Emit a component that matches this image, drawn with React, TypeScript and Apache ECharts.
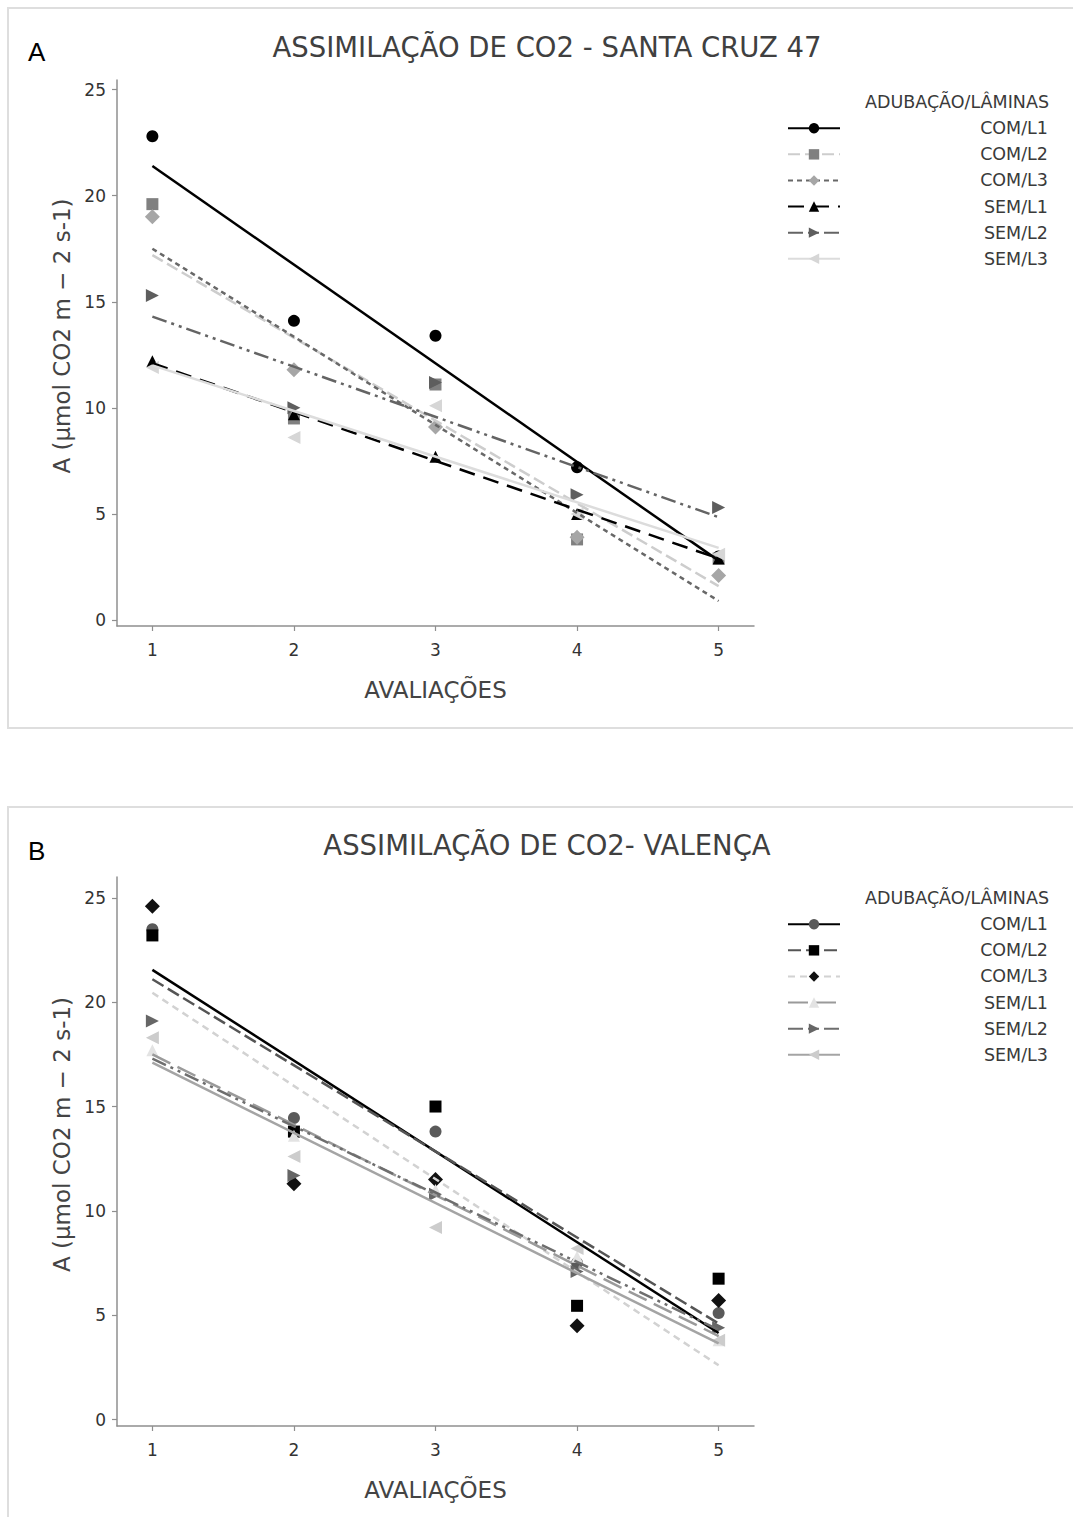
import React, { useEffect, useRef } from "react";
import * as echarts from "echarts";

// ---------- data ----------
const X_VALUES = [1, 2, 3, 4, 5];
const Y_TICKS = [0, 5, 10, 15, 20, 25];
const SERIES_NAMES = ["COM/L1", "COM/L2", "COM/L3", "SEM/L1", "SEM/L2", "SEM/L3"];
const LEGEND_TITLE = "ADUBAÇÃO/LÂMINAS";
const X_NAME = "AVALIAÇÕES";
const Y_NAME = "A (µmol CO2 m − 2 s-1)";

const TITLE_A = "ASSIMILAÇÃO DE CO2 - SANTA CRUZ 47";
const A_COM_L1 = [22.8, 14.1, 13.4, 7.2, 3.0];
const A_COM_L2 = [19.6, 9.5, 11.1, 3.8, 2.9];
const A_COM_L3 = [19.0, 11.8, 9.1, 3.9, 2.1];
const A_SEM_L1 = [12.2, 9.7, 7.7, 5.0, 2.9];
const A_SEM_L2 = [15.3, 10.0, 11.2, 5.9, 5.3];
const A_SEM_L3 = [11.9, 8.6, 10.1, 5.0, 3.1];
// fitted trend lines, value at evaluation 1 and at evaluation 5
const A_TREND_START = [21.4, 17.2, 17.5, 12.1, 14.3, 12.0];
const A_TREND_END = [2.8, 1.6, 0.9, 2.9, 4.85, 3.4];

const TITLE_B = "ASSIMILAÇÃO DE CO2- VALENÇA";
const B_COM_L1 = [23.5, 14.45, 13.8, 7.5, 5.1];
const B_COM_L2 = [23.2, 13.8, 15.0, 5.45, 6.75];
const B_COM_L3 = [24.6, 11.3, 11.5, 4.5, 5.7];
const B_SEM_L1 = [17.7, 13.6, 11.0, 7.8, 3.8];
const B_SEM_L2 = [19.1, 11.7, 10.8, 7.1, 4.4];
const B_SEM_L3 = [18.3, 12.6, 9.2, 8.2, 3.8];
const B_TREND_START = [21.55, 21.1, 20.45, 17.5, 17.3, 17.1];
const B_TREND_END = [4.15, 4.6, 2.6, 4.0, 4.3, 3.65];

// ---------- styles ----------
const FONT = "'DejaVu Sans', 'Noto Sans', sans-serif";
type Sty = { symbol: string; size: number; rotate: number; mColor: string; lColor: string; dash: any; width: number };

const DASH_DOT_DOT = [15, 5, 3, 5, 3, 5];

const STYLES_A: Sty[] = [
  { symbol: "circle", size: 12, rotate: 0, mColor: "#000000", lColor: "#000000", dash: "solid", width: 2.5 },
  { symbol: "rect", size: 12, rotate: 0, mColor: "#808080", lColor: "#cdcdcd", dash: [12, 5], width: 2.5 },
  { symbol: "diamond", size: 15, rotate: 0, mColor: "#a6a6a6", lColor: "#686868", dash: [5, 4], width: 2.5 },
  { symbol: "triangle", size: 12, rotate: 0, mColor: "#000000", lColor: "#000000", dash: [16, 9], width: 2.5 },
  { symbol: "triangle", size: 13, rotate: -90, mColor: "#5e5e5e", lColor: "#646464", dash: DASH_DOT_DOT, width: 2.5 },
  { symbol: "triangle", size: 13, rotate: 90, mColor: "#d6d6d6", lColor: "#dcdcdc", dash: "solid", width: 2.5 },
];

const STYLES_B: Sty[] = [
  { symbol: "circle", size: 12, rotate: 0, mColor: "#5a5a5a", lColor: "#000000", dash: "solid", width: 2.5 },
  { symbol: "rect", size: 12, rotate: 0, mColor: "#000000", lColor: "#555555", dash: [13, 5], width: 2.5 },
  { symbol: "diamond", size: 15, rotate: 0, mColor: "#111111", lColor: "#d2d2d2", dash: [7, 5], width: 2.5 },
  { symbol: "triangle", size: 12, rotate: 0, mColor: "#e3e3e3", lColor: "#9a9a9a", dash: [20, 8], width: 2.5 },
  { symbol: "triangle", size: 13, rotate: -90, mColor: "#666666", lColor: "#6e6e6e", dash: DASH_DOT_DOT, width: 2.5 },
  { symbol: "triangle", size: 13, rotate: 90, mColor: "#cccccc", lColor: "#a4a4a4", dash: "solid", width: 2.5 },
];

type Panel = {
  letter: string;
  title: string;
  values: number[][];
  trendStart: number[];
  trendEnd: number[];
  styles: Sty[];
  yMin: number;
  yMax: number;
  gridTop: number;
  gridHeight: number;
  borderTop: number;
  borderHeight: number;
  titleY: number;
  letterY: number;
  legendTitleY: number;
  legendTop: number;
};

const AXIS_COLOR = "#8f8f8f";
const LEGEND_FONT_SIZE = 17.5;
const NAME_FONT_SIZE = 23;
const TICK_FONT_SIZE = 17;

function buildOption(p: Panel): any {
  const series: any[] = [];
  SERIES_NAMES.forEach((name, i) => {
    const s = p.styles[i];
    series.push({
      type: "line",
      name,
      data: [
        [X_VALUES[0], p.trendStart[i]],
        [X_VALUES[X_VALUES.length - 1], p.trendEnd[i]],
      ],
      showSymbol: false,
      symbol: s.symbol,
      symbolSize: s.size,
      symbolRotate: s.rotate,
      itemStyle: { color: s.mColor },
      lineStyle: { color: s.lColor, width: s.width, type: s.dash },
      silent: true,
      z: 3,
    });
  });
  SERIES_NAMES.forEach((name, i) => {
    const s = p.styles[i];
    series.push({
      type: "scatter",
      name,
      data: p.values[i].map((v, j) => [X_VALUES[j], v]),
      symbol: s.symbol,
      symbolSize: s.size,
      symbolRotate: s.rotate,
      itemStyle: { color: s.mColor, opacity: 1 },
      silent: true,
      z: 2,
    });
  });

  return {
    animation: false,
    backgroundColor: "#ffffff",
    textStyle: { fontFamily: FONT },
    grid: { left: 117, top: p.gridTop, width: 637, height: p.gridHeight, containLabel: false },
    xAxis: {
      type: "value",
      min: 0.75,
      max: 5.25,
      name: X_NAME,
      nameLocation: "middle",
      nameGap: 52,
      nameTextStyle: { fontFamily: FONT, fontSize: NAME_FONT_SIZE, color: "#444444" },
      axisLine: { show: true, onZero: false, lineStyle: { color: AXIS_COLOR, width: 1.5 } },
      axisTick: { show: true, length: 5, customValues: X_VALUES, lineStyle: { color: AXIS_COLOR, width: 1.2 } },
      axisLabel: { customValues: X_VALUES, margin: 15, fontFamily: FONT, fontSize: TICK_FONT_SIZE, color: "#333333" },
      splitLine: { show: false },
    },
    yAxis: {
      type: "value",
      min: p.yMin,
      max: p.yMax,
      name: Y_NAME,
      nameLocation: "middle",
      nameGap: 42,
      nameRotate: 90,
      nameTextStyle: { fontFamily: FONT, fontSize: NAME_FONT_SIZE, color: "#444444", padding: [0, 0, 0, 34] },
      axisLine: { show: true, onZero: false, lineStyle: { color: AXIS_COLOR, width: 1.5 } },
      axisTick: { show: true, length: 5, customValues: Y_TICKS, lineStyle: { color: AXIS_COLOR, width: 1.2 } },
      axisLabel: { customValues: Y_TICKS, margin: 11, fontFamily: FONT, fontSize: TICK_FONT_SIZE, color: "#333333" },
      splitLine: { show: false },
    },
    legend: {
      data: SERIES_NAMES,
      orient: "vertical",
      left: 787,
      top: p.legendTop,
      padding: 0,
      itemWidth: 52,
      itemHeight: 13,
      itemGap: 25.6 - LEGEND_FONT_SIZE,
      selectedMode: false,
      formatter: (name: string) => `{n|${name}}`,
      textStyle: {
        fontFamily: FONT,
        fontSize: LEGEND_FONT_SIZE,
        color: "#3a3a3a",
        rich: { n: { width: 203, align: "right", fontFamily: FONT, fontSize: LEGEND_FONT_SIZE, color: "#3a3a3a" } },
      },
    },
    graphic: [
      {
        type: "rect",
        shape: { x: 8, y: p.borderTop, width: 1100, height: p.borderHeight },
        style: { fill: "none", stroke: "#dedede", lineWidth: 2 },
        silent: true,
        z: -1,
      },
      {
        type: "text",
        x: 28,
        y: p.letterY,
        style: { text: p.letter, fontFamily: "'Liberation Sans', Arial, sans-serif", fontSize: 26, fill: "#000000", verticalAlign: "middle" },
      },
      {
        type: "text",
        x: 547,
        y: p.titleY,
        style: { text: p.title, fontFamily: FONT, fontSize: 27.5, fill: "#404040", align: "center", verticalAlign: "middle" },
      },
      {
        type: "text",
        x: 1049,
        y: p.legendTitleY,
        style: { text: LEGEND_TITLE, fontFamily: FONT, fontSize: LEGEND_FONT_SIZE, fill: "#3a3a3a", align: "right", verticalAlign: "middle" },
      },
    ],
    series,
  };
}

const PANEL_A: Panel = {
  letter: "A",
  title: TITLE_A,
  values: [A_COM_L1, A_COM_L2, A_COM_L3, A_SEM_L1, A_SEM_L2, A_SEM_L3],
  trendStart: A_TREND_START,
  trendEnd: A_TREND_END,
  styles: STYLES_A,
  yMin: -0.28,
  yMax: 25.45,
  gridTop: 80,
  gridHeight: 546,
  borderTop: 8,
  borderHeight: 720,
  titleY: 47,
  letterY: 52,
  legendTitleY: 102,
  legendTop: 128 - LEGEND_FONT_SIZE / 2,
};

// panel B div starts at page y = 760
const PANEL_B: Panel = {
  letter: "B",
  title: TITLE_B,
  values: [B_COM_L1, B_COM_L2, B_COM_L3, B_SEM_L1, B_SEM_L2, B_SEM_L3],
  trendStart: B_TREND_START,
  trendEnd: B_TREND_END,
  styles: STYLES_B,
  yMin: -0.31,
  yMax: 26.0,
  gridTop: 117,
  gridHeight: 549,
  borderTop: 47,
  borderHeight: 800,
  titleY: 85,
  letterY: 91,
  legendTitleY: 138,
  legendTop: 164 - LEGEND_FONT_SIZE / 2,
};

function ChartPanel({ panel, top, height }: { panel: Panel; top: number; height: number }) {
  const ref = useRef<HTMLDivElement>(null);
  useEffect(() => {
    if (!ref.current) return;
    const chart = echarts.init(ref.current, undefined, { renderer: "svg" });
    chart.setOption(buildOption(panel));
    return () => chart.dispose();
  }, [panel]);
  return (
    <div
      ref={ref}
      style={{ position: "absolute", left: 0, top, width: 1073, height, overflow: "hidden" }}
    />
  );
}

export default function App() {
  return (
    <div style={{ position: "absolute", left: 0, top: 0, width: 1073, height: 1517, background: "#ffffff", overflow: "hidden" }}>
      <ChartPanel panel={PANEL_A} top={0} height={760} />
      <ChartPanel panel={PANEL_B} top={760} height={757} />
    </div>
  );
}
